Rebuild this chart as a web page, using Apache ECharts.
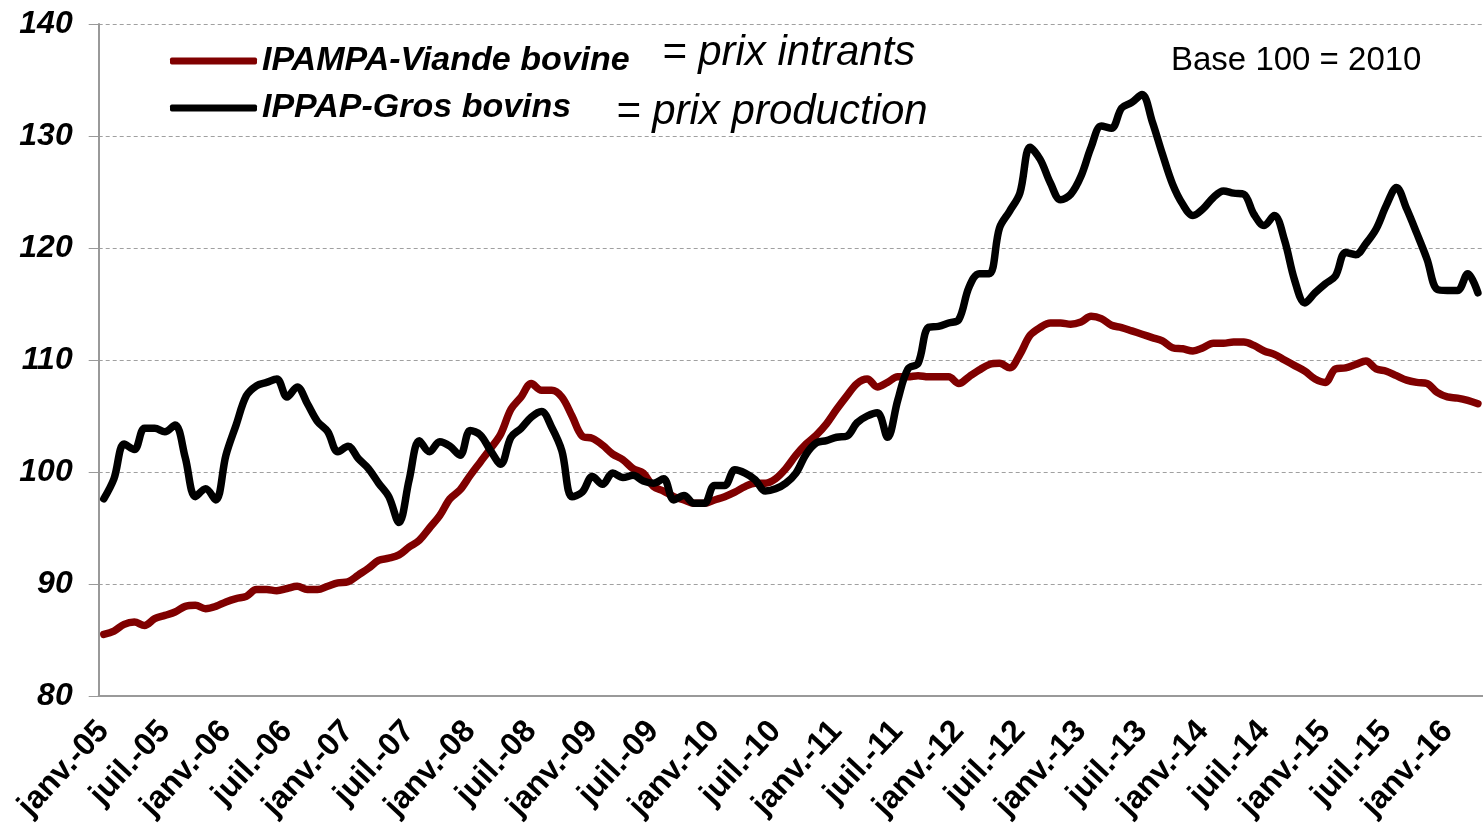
<!DOCTYPE html>
<html>
<head>
<meta charset="utf-8">
<script src="https://cdn.jsdelivr.net/npm/echarts/dist/echarts.min.js"></script>
<style>
  html, body { margin: 0; padding: 0; background: #fff; }
  #main { width: 1483px; height: 835px; }
</style>
</head>
<body>
<div id="main"></div>
<script>
// mois et années de l'axe
var moisNoms = ['janv.', 'févr.', 'mars', 'avr.', 'mai', 'juin', 'juil.', 'août', 'sept.', 'oct.', 'nov.', 'déc.'];
var annees = ['05', '06', '07', '08', '09', '10', '11', '12', '13', '14', '15', '16'];
var nbMois = 136; // janv.-05 -> avr.-16

// IPAMPA-Viande bovine (prix intrants)
var ipampa = [
  85.5, 85.8, 86.4, 86.6, 86.3, 86.9, 87.2, 87.5, 88.0, 88.1, 87.8, 88.0,
  88.4, 88.7, 88.9, 89.5, 89.5, 89.4, 89.6, 89.8, 89.5, 89.5, 89.8, 90.1,
  90.2, 90.8, 91.4, 92.1, 92.3, 92.6, 93.3, 93.9, 95.0, 96.1, 97.6, 98.4,
  99.7, 100.9, 102.1, 103.4, 105.6, 106.7, 107.9, 107.3, 107.3, 106.7, 105.0, 103.2,
  103.0, 102.4, 101.6, 101.1, 100.3, 99.9, 98.7, 98.3, 97.8, 97.5, 97.2, 97.2,
  97.5, 97.8, 98.2, 98.7, 99.0, 99.0, 99.4, 100.3, 101.5, 102.5, 103.3, 104.3,
  105.6, 106.8, 107.9, 108.3, 107.6, 108.0, 108.5, 108.5, 108.6, 108.5, 108.5, 108.5,
  107.9, 108.5, 109.1, 109.6, 109.7, 109.3, 110.5, 112.2, 112.9, 113.3, 113.3, 113.2,
  113.4, 113.9, 113.7, 113.1, 112.9, 112.6, 112.3, 112.0, 111.7, 111.1, 111.0, 110.8,
  111.1, 111.5, 111.5, 111.6, 111.6, 111.3, 110.8, 110.5, 110.0, 109.5, 109.0, 108.3,
  108.0, 109.2, 109.3, 109.6, 109.9, 109.2, 109.0, 108.6, 108.2, 108.0, 107.9, 107.1,
  106.7, 106.6, 106.4, 106.1
];

// IPPAP-Gros bovins (prix production)
var ippap = [
  97.6, 99.4, 102.5, 102.0, 103.9, 103.9, 103.6, 104.2, 101.3, 97.8, 98.5, 97.5,
  101.5, 104.2, 106.8, 107.7, 108.0, 108.3, 106.7, 107.6, 106.1, 104.5, 103.6, 101.8,
  102.3, 101.2, 100.3, 99.0, 97.8, 95.5, 99.3, 102.8, 101.8, 102.7, 102.3, 101.5,
  103.7, 103.3, 101.9, 100.7, 103.1, 103.9, 104.9, 105.4, 104.0, 101.9, 97.8, 98.2,
  99.6, 98.9, 99.9, 99.5, 99.7, 99.2, 99.0, 99.4, 97.5, 97.9, 97.2, 97.2,
  98.8, 98.8, 100.2, 99.9, 99.3, 98.3, 98.5, 99.0, 99.9, 101.6, 102.6, 102.8,
  103.1, 103.2, 104.4, 105.0, 105.3, 103.1, 106.4, 109.2, 109.7, 112.9, 113.0, 113.3,
  113.6, 116.5, 117.7, 117.7, 121.8, 123.3, 124.9, 129.0, 127.9, 125.8, 124.3, 124.8,
  126.4, 129.0, 130.9, 130.7, 132.5, 133.0, 133.7, 131.3, 128.4, 125.7, 123.9, 122.9,
  123.5, 124.5, 125.1, 124.9, 124.8, 123.0, 122.0, 122.9, 120.7, 117.1, 115.1, 116.0,
  116.8, 117.5, 119.6, 119.4, 120.4, 121.7, 123.8, 125.4, 123.5, 121.3, 119.0, 116.3,
  116.2, 116.2, 117.7, 116.0
];

var categories = [];
for (var i = 0; i < nbMois; i++) {
  categories.push(moisNoms[i % 12] + '-' + annees[Math.floor(i / 12)]);
}

var police = "'Liberation Sans', Arial, sans-serif";
var gris = '#999999';

var chart = echarts.init(document.getElementById('main'));
chart.setOption({
  animation: false,
  backgroundColor: '#ffffff',
  grid: { left: 98.7, top: 24, width: 1388.6, height: 672 },
  legend: {
    orient: 'vertical',
    left: 170,
    top: 41,
    padding: 0,
    itemGap: 7,
    icon: 'roundRect',
    itemWidth: 87,
    itemHeight: 7,
    textStyle: {
      fontFamily: police, fontSize: 34, fontWeight: 'bold', fontStyle: 'italic',
      color: '#000', lineHeight: 40
    },
    data: ['IPAMPA-Viande bovine', 'IPPAP-Gros bovins']
  },
  xAxis: {
    type: 'category',
    boundaryGap: true,
    data: categories,
    axisLine: { lineStyle: { color: gris, width: 2 } },
    axisTick: { interval: 5, length: 9, lineStyle: { color: gris, width: 2 } },
    axisLabel: {
      interval: 5, rotate: 47, margin: 30,
      fontFamily: police, fontSize: 32, fontWeight: 'bold', color: '#000'
    },
    z: 5
  },
  yAxis: {
    type: 'value',
    min: 80, max: 140, interval: 10,
    axisLine: { show: true, lineStyle: { color: gris, width: 2 } },
    axisTick: { show: true, length: 10, lineStyle: { color: gris, width: 1 } },
    axisLabel: {
      margin: 26, fontFamily: police, fontSize: 32, fontWeight: 'bold',
      fontStyle: 'italic', color: '#000'
    },
    splitLine: { lineStyle: { color: '#a0a0a0', width: 1, type: [4, 3] } }
  },
  graphic: [
    { type: 'text', left: 662, top: 32, silent: true,
      style: { text: '= prix intrants', fontFamily: police, fontSize: 42, fontStyle: 'italic', fill: '#000' } },
    { type: 'text', left: 616, top: 91, silent: true,
      style: { text: '= prix production', fontFamily: police, fontSize: 42, fontStyle: 'italic', fill: '#000' } },
    { type: 'text', left: 1171, top: 44, silent: true,
      style: { text: 'Base 100 = 2010', fontFamily: police, fontSize: 33, fill: '#000' } }
  ],
  series: [
    {
      name: 'IPAMPA-Viande bovine',
      type: 'line',
      data: ipampa,
      showSymbol: false,
      smooth: 0.35,
      color: '#800000',
      lineStyle: { width: 7.5, color: '#800000', cap: 'round', join: 'round' }
    },
    {
      name: 'IPPAP-Gros bovins',
      type: 'line',
      data: ippap,
      showSymbol: false,
      smooth: 0.35,
      color: '#000000',
      lineStyle: { width: 7.5, color: '#000000', cap: 'round', join: 'round' }
    }
  ]
});
</script>
</body>
</html>
